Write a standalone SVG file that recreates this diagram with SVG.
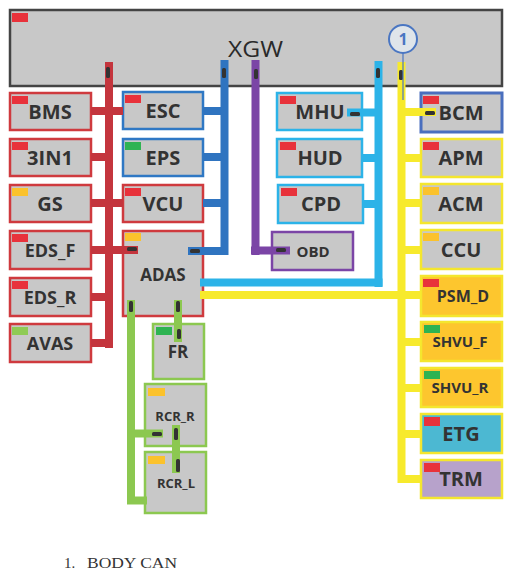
<svg xmlns="http://www.w3.org/2000/svg" width="512" height="578" viewBox="0 0 512 578">
<style>
.bx{fill:#c8c8c8;stroke-width:2.5}
.r{stroke:#cf3a3e}.b{stroke:#2f78c4}.c{stroke:#2cb3e8}.p{stroke:#7b45a6}.y{stroke:#f4e62e}.g{stroke:#8cc850}.bb{stroke:#4a6fbe;stroke-width:3}
.t{font-family:"Open Sans","Liberation Sans",sans-serif;font-weight:700;fill:#333;text-anchor:middle}
.tr{fill:#e8323b}.ty{fill:#fbc22c}.tgg{fill:#2eb352}.tlg{fill:#8fcb55}
.bus{fill:none;stroke-width:8;stroke-linecap:butt}
.tk{fill:#333}
</style>
<rect width="512" height="578" fill="#fff"/>
<g id="XGW">
<rect x="10" y="10" width="492" height="76" fill="#c8c8c8" stroke="#444" stroke-width="2.5"/>
<rect x="12" y="13" width="16" height="9" class="tr"/>
<text x="228" y="57" font-family="Open Sans,Liberation Sans,sans-serif" font-size="21" fill="#2a2a2a" textLength="55" lengthAdjust="spacingAndGlyphs">XGW</text>
</g>
<g id="BMS"><rect x="10" y="93" width="81" height="37" class="bx r"/><rect x="12" y="96" width="16" height="8" class="tr"/><text x="50" y="119" class="t" font-size="20">BMS</text></g>
<g id="N3IN1"><rect x="10" y="139" width="81" height="37" class="bx r"/><rect x="12" y="142" width="16" height="8" class="tr"/><text x="50" y="165" class="t" font-size="20">3IN1</text></g>
<g id="GS"><rect x="10" y="185" width="81" height="37" class="bx r"/><rect x="12" y="188" width="16" height="8" class="ty"/><text x="50" y="211" class="t" font-size="20">GS</text></g>
<g id="EDS_F"><rect x="10" y="231" width="81" height="38" class="bx r"/><rect x="12" y="234" width="16" height="8" class="tr"/><text x="50" y="257" class="t" font-size="18">EDS_F</text></g>
<g id="EDS_R"><rect x="10" y="278" width="81" height="38" class="bx r"/><rect x="12" y="281" width="16" height="8" class="tr"/><text x="50" y="304" class="t" font-size="18">EDS_R</text></g>
<g id="AVAS"><rect x="10" y="324" width="81" height="38" class="bx r"/><rect x="12" y="327" width="16" height="8" class="tlg"/><text x="50" y="350" class="t" font-size="18">AVAS</text></g>
<g id="ESC"><rect x="123" y="92" width="80" height="37" class="bx b"/><rect x="125" y="95" width="16" height="8" class="tr"/><text x="163" y="118" class="t" font-size="20">ESC</text></g>
<g id="EPS"><rect x="123" y="139" width="80" height="37" class="bx b"/><rect x="125" y="142" width="16" height="8" class="tgg"/><text x="163" y="165" class="t" font-size="20">EPS</text></g>
<g id="VCU"><rect x="123" y="185" width="80" height="37" class="bx r"/><rect x="125" y="188" width="16" height="8" class="tr"/><text x="163" y="211" class="t" font-size="20">VCU</text></g>
<g id="ADAS"><rect x="123" y="231" width="80" height="85" class="bx r"/><rect x="125" y="233" width="16" height="8" class="ty"/><text x="163" y="281" class="t" font-size="17">ADAS</text></g>
<g id="MHU"><rect x="277" y="93" width="85" height="37" class="bx c"/><rect x="280" y="96" width="16" height="8" class="tr"/><text x="320" y="119" class="t" font-size="20">MHU</text></g>
<g id="HUD"><rect x="277" y="139" width="85" height="38" class="bx c"/><rect x="280" y="142" width="16" height="8" class="tr"/><text x="320" y="165" class="t" font-size="20">HUD</text></g>
<g id="CPD"><rect x="278" y="185" width="85" height="38" class="bx c"/><rect x="281" y="188" width="16" height="8" class="tr"/><text x="321" y="211" class="t" font-size="20">CPD</text></g>
<g id="OBD"><rect x="272" y="232" width="81" height="38" class="bx p"/><text x="313" y="257" class="t" font-size="15">OBD</text></g>
<g id="BCM"><rect x="421" y="93" width="81" height="39" class="bx bb"/><rect x="423" y="96" width="16" height="8" class="tr"/><text x="461" y="120" class="t" font-size="20">BCM</text></g>
<g id="APM"><rect x="421" y="139" width="81" height="38" class="bx y"/><rect x="423" y="142" width="16" height="8" class="tr"/><text x="461" y="165" class="t" font-size="20">APM</text></g>
<g id="ACM"><rect x="421" y="184" width="81" height="39" class="bx y"/><rect x="423" y="187" width="16" height="8" class="ty"/><text x="461" y="211" class="t" font-size="20">ACM</text></g>
<g id="CCU"><rect x="421" y="230" width="81" height="39" class="bx y"/><rect x="423" y="233" width="16" height="8" class="ty"/><text x="461" y="257" class="t" font-size="20">CCU</text></g>
<g id="PSM_D"><rect x="421" y="276" width="81" height="40" fill="#fdc62e" stroke="#f4e62e" stroke-width="2.5"/><rect x="423" y="279" width="16" height="8" class="tr"/><text x="463" y="302" class="t" font-size="16">PSM_D</text></g>
<g id="SHVU_F"><rect x="421" y="322" width="81" height="39" fill="#fdc62e" stroke="#f4e62e" stroke-width="2.5"/><rect x="424" y="325" width="16" height="8" class="tgg"/><text x="460" y="347" class="t" font-size="15">SHVU_F</text></g>
<g id="SHVU_R"><rect x="421" y="368" width="81" height="39" fill="#fdc62e" stroke="#f4e62e" stroke-width="2.5"/><rect x="424" y="371" width="16" height="8" class="tgg"/><text x="460" y="393" class="t" font-size="15">SHVU_R</text></g>
<g id="ETG"><rect x="421" y="414" width="81" height="39" fill="#4cb8d2" stroke="#f4e62e" stroke-width="2.5"/><rect x="424" y="417" width="16" height="9" class="tr"/><text x="461" y="441" class="t" font-size="20">ETG</text></g>
<g id="TRM"><rect x="421" y="460" width="81" height="38" fill="#b7a2cb" stroke="#f4e62e" stroke-width="2.5"/><rect x="424" y="463" width="16" height="9" class="tr"/><text x="461" y="486" class="t" font-size="20">TRM</text></g>
<g id="FR"><rect x="153" y="324" width="51" height="55" class="bx g"/><rect x="156" y="327" width="16" height="8" class="tgg"/><text x="178" y="358" class="t" font-size="17">FR</text></g>
<g id="RCR_R"><rect x="145" y="384" width="61" height="62" class="bx g"/><rect x="148" y="388" width="17" height="8" class="ty"/><text x="175" y="421" class="t" font-size="13">RCR_R</text></g>
<g id="RCR_L"><rect x="145" y="452" width="61" height="61" class="bx g"/><rect x="148" y="456" width="17" height="8" class="ty"/><text x="176" y="488" class="t" font-size="13">RCR_L</text></g>
<g id="connectors">
<g stroke="#c4353d" class="bus">
<line x1="109" y1="62" x2="109" y2="348"/>
<line x1="91" y1="111" x2="123" y2="111"/>
<line x1="91" y1="157" x2="109" y2="157"/>
<line x1="91" y1="203" x2="123" y2="203"/>
<line x1="91" y1="250" x2="138" y2="250"/>
<line x1="91" y1="297" x2="109" y2="297"/>
<line x1="91" y1="343" x2="109" y2="343"/>
</g>
<g stroke="#2f74c0" class="bus">
<line x1="224.5" y1="60" x2="224.5" y2="255"/>
<line x1="203" y1="111" x2="228" y2="111"/>
<line x1="203" y1="157" x2="228" y2="157"/>
<line x1="203" y1="203" x2="228" y2="203"/>
<line x1="188" y1="251" x2="228" y2="251"/>
</g>
<g stroke="#7b45a6" class="bus">
<line x1="255.5" y1="60" x2="255.5" y2="255"/>
<line x1="251" y1="250.5" x2="290" y2="250.5"/>
</g>
<g stroke="#2cb3e8" class="bus">
<line x1="378.5" y1="61" x2="378.5" y2="287"/>
<line x1="347" y1="112.5" x2="382" y2="112.5"/>
<line x1="362" y1="158" x2="382" y2="158"/>
<line x1="363" y1="204" x2="382" y2="204"/>
<line x1="200" y1="282.5" x2="382.5" y2="282.5"/>
</g>
<g stroke="#f7ea2c" class="bus">
<line x1="401.5" y1="62" x2="401.5" y2="483"/>
<line x1="401" y1="112" x2="436" y2="112"/>
<line x1="401" y1="158" x2="421" y2="158"/>
<line x1="401" y1="203" x2="421" y2="203"/>
<line x1="401" y1="250" x2="421" y2="250"/>
<line x1="200" y1="295" x2="421" y2="295"/>
<line x1="401" y1="342" x2="421" y2="342"/>
<line x1="401" y1="388" x2="421" y2="388"/>
<line x1="401" y1="434" x2="421" y2="434"/>
<line x1="401" y1="479" x2="421" y2="479"/>
</g>
<g stroke="#8cc850" class="bus">
<line x1="131" y1="300" x2="131" y2="504"/>
<line x1="127" y1="500.5" x2="147" y2="500.5"/>
<line x1="131" y1="433.5" x2="163" y2="433.5"/>
<line x1="178" y1="300" x2="178" y2="342"/>
<line x1="176" y1="425" x2="176" y2="473"/>
</g>
<g>
<rect x="106" y="67" width="4" height="11" rx="1.5" class="tk"/>
<rect x="222" y="68" width="4" height="10" rx="1.5" class="tk"/>
<rect x="254" y="69" width="4" height="10" rx="1.5" class="tk"/>
<rect x="376" y="68" width="4" height="10" rx="1.5" class="tk"/>
<rect x="399" y="70" width="4" height="10" rx="1.5" class="tk"/>
<rect x="350" y="112" width="10" height="4" rx="1.5" class="tk"/>
<rect x="425" y="111" width="10" height="4" rx="1.5" class="tk"/>
<rect x="127" y="247" width="10" height="4" rx="1.5" class="tk"/>
<rect x="190" y="249" width="10" height="4" rx="1.5" class="tk"/>
<rect x="276" y="248" width="10" height="4" rx="1.5" class="tk"/>
<rect x="129" y="301" width="4" height="11" rx="1.5" class="tk"/>
<rect x="176" y="301" width="4" height="11" rx="1.5" class="tk"/>
<rect x="177" y="329" width="4" height="10" rx="1.5" class="tk"/>
<rect x="152" y="432" width="10" height="4" rx="1.5" class="tk"/>
<rect x="174" y="428" width="4" height="12" rx="1.5" class="tk"/>
<rect x="176" y="459" width="4" height="13" rx="1.5" class="tk"/>
</g>
<g id="callout1">
<line x1="403" y1="53" x2="403" y2="100" stroke="#4a76c2" stroke-width="1.2"/>
<circle cx="403" cy="39" r="14" fill="#dfe5ea" stroke="#4a76c2" stroke-width="2"/>
<text x="403" y="45" class="t" style="font-size:16px;fill:#4a76c2">1</text>
</g>
</g>
<text x="64" y="568" font-family="Liberation Serif,serif" font-size="15" fill="#333">1.</text>
<text x="87" y="568" font-family="Liberation Serif,serif" font-size="15" fill="#333" textLength="90" lengthAdjust="spacingAndGlyphs">BODY CAN</text>
</svg>
